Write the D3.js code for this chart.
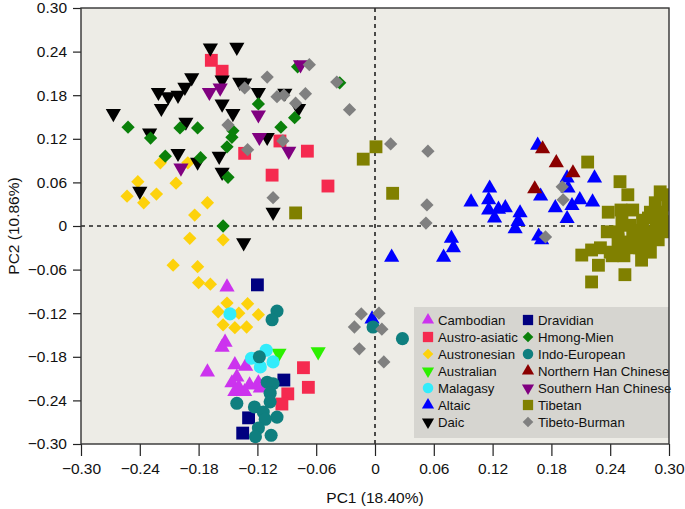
<!DOCTYPE html>
<html><head><meta charset="utf-8">
<script src="https://cdn.jsdelivr.net/npm/d3@7"></script>
<style>body{margin:0;background:#fff}svg text{font-family:"Liberation Sans",Arial,Helvetica,sans-serif;fill:#111}</style>
</head><body><svg id="c" width="685" height="509"></svg>
<script>
// ---- data ----
const xTickValues = [-0.30,-0.24,-0.18,-0.12,-0.06,0,0.06,0.12,0.18,0.24,0.30];
const yTickValues = [-0.30,-0.24,-0.18,-0.12,-0.06,0,0.06,0.12,0.18,0.24,0.30];
const tickLabels = ["\u22120.30","\u22120.24","\u22120.18","\u22120.12","\u22120.06","0","0.06","0.12","0.18","0.24","0.30"];
const xTitle = "PC1 (18.40%)";
const yTitle = "PC2 (10.86%)";
const groupNames = ["Cambodian","Austro-asiatic","Austronesian","Australian","Malagasy","Altaic","Daic",
  "Dravidian","Hmong-Mien","Indo-European","Northern Han Chinese","Southern Han Chinese","Tibetan","Tibeto-Burman"];

const cambodian = [[-0.151,-0.084],[-0.153,-0.160],[-0.156,-0.167],[-0.171,-0.201],[-0.143,-0.191],[-0.132,-0.193],
  [-0.141,-0.208],[-0.146,-0.216],[-0.139,-0.222],[-0.133,-0.228],[-0.128,-0.219],[-0.119,-0.216],[-0.117,-0.223],[-0.143,-0.228]];
const austroAsiatic = [[-0.167,0.228],[-0.156,0.213],[-0.133,0.100],[-0.097,0.117],[-0.069,0.103],[-0.105,0.070],[-0.048,0.055],
  [-0.073,-0.195],[-0.068,-0.222],[-0.089,-0.231],[-0.095,-0.245]];
const austronesian = [[-0.219,0.087],[-0.191,0.087],[-0.242,0.061],[-0.253,0.041],[-0.236,0.032],[-0.223,0.044],[-0.203,0.059],
  [-0.171,0.032],[-0.184,0.015],[-0.189,-0.017],[-0.155,-0.019],[-0.206,-0.054],[-0.181,-0.056],[-0.180,-0.078],[-0.168,-0.080],
  [-0.151,-0.106],[-0.130,-0.107],[-0.160,-0.118],[-0.139,-0.120],[-0.119,-0.122],[-0.155,-0.136],[-0.143,-0.140],[-0.131,-0.139]];
const australian = [[-0.098,-0.175],[-0.058,-0.173]];
const malagasy = [[-0.148,-0.121],[-0.111,-0.171],[-0.126,-0.182],[-0.117,-0.194],[-0.104,-0.187]];
const altaic = [[0.166,0.111],[0.117,0.052],[0.098,0.033],[0.116,0.036],[0.116,0.022],[0.126,0.023],[0.133,0.025],[0.122,0.011],
  [0.148,0.018],[0.146,0.006],[0.143,-0.004],[0.169,0.041],[0.196,0.066],[0.197,0.052],[0.184,0.025],[0.201,0.028],[0.209,0.036],
  [0.222,0.033],[0.224,0.066],[0.196,0.010],[0.167,-0.014],[0.170,-0.019],[0.078,-0.017],[0.080,-0.030],[0.070,-0.043],
  [0.017,-0.043],[-0.003,-0.128]];
const daic = [[-0.168,0.245],[-0.141,0.246],[-0.267,0.155],[-0.221,0.184],[-0.211,0.178],[-0.201,0.180],[-0.194,0.191],
  [-0.187,0.204],[-0.218,0.162],[-0.156,0.201],[-0.138,0.198],[-0.133,0.197],[-0.119,0.184],[-0.092,0.183],[-0.156,0.168],
  [-0.145,0.155],[-0.193,0.143],[-0.230,0.128],[-0.201,0.100],[-0.181,0.088],[-0.159,0.096],[-0.156,0.074],[-0.110,0.122],
  [-0.078,0.162],[-0.240,0.048],[-0.104,0.019],[-0.134,-0.023]];
const dravidian = [[-0.120,-0.081],[-0.093,-0.212],[-0.129,-0.264],[-0.135,-0.285]];
const hmongMien = [[-0.252,0.136],[-0.229,0.121],[-0.214,0.096],[-0.199,0.135],[-0.181,0.135],[-0.178,0.094],[-0.151,0.109],
  [-0.146,0.122],[-0.145,0.131],[-0.150,0.067],[-0.119,0.168],[-0.096,0.136],[-0.082,0.149],[-0.155,0.000],[-0.079,0.219],[-0.036,0.197]];
const indoEuropean = [[-0.100,-0.117],[-0.105,-0.129],[-0.118,-0.180],[-0.110,-0.215],[-0.104,-0.217],[-0.107,-0.230],
  [-0.107,-0.242],[-0.141,-0.244],[-0.123,-0.249],[-0.114,-0.256],[-0.100,-0.263],[-0.112,-0.266],[-0.119,-0.278],
  [-0.122,-0.290],[-0.106,-0.288],[-0.002,-0.139],[0.028,-0.155]];
const northernHan = [[0.171,0.106],[0.185,0.087],[0.202,0.073],[0.163,0.051]];
const southernHan = [[-0.169,0.184],[-0.158,0.190],[-0.076,0.222],[-0.119,0.153],[-0.118,0.122],[-0.088,0.103],[-0.198,0.080]];
const tibetan = [[-0.081,0.018],[-0.012,0.092],[0.001,0.109],[0.018,0.045],[0.217,0.088],
  [0.250,0.061],[0.258,0.043],[0.238,0.019],[0.251,0.022],[0.263,0.022],[0.291,0.047],[0.297,0.043],[0.286,0.032],
  [0.281,0.019],[0.293,0.019],[0.299,0.029],[0.252,0.006],[0.260,0.001],[0.237,-0.008],[0.248,-0.008],[0.263,-0.006],
  [0.273,0.008],[0.279,0.011],[0.287,0.003],[0.295,0.001],[0.274,-0.008],[0.286,-0.010],[0.297,-0.008],[0.248,-0.019],
  [0.258,-0.022],[0.268,-0.017],[0.279,-0.023],[0.289,-0.019],[0.281,-0.036],[0.270,-0.030],[0.260,-0.030],[0.250,-0.033],
  [0.240,-0.036],[0.230,-0.030],[0.221,-0.033],[0.211,-0.040],[0.272,-0.047],[0.228,-0.054],[0.221,-0.077],[0.255,-0.067],
  [0.242,-0.041],[0.254,-0.041],[0.291,0.015],[0.299,0.006]];
const tibetoBurman = [[-0.150,0.139],[-0.133,0.190],[-0.110,0.205],[-0.067,0.222],[-0.039,0.198],[-0.100,0.178],[-0.093,0.180],
  [-0.071,0.182],[-0.081,0.169],[-0.026,0.160],[-0.130,0.105],[-0.094,0.117],[-0.104,0.039],[0.016,0.113],[0.054,0.103],
  [0.053,0.029],[0.052,0.004],[0.191,0.054],[0.192,0.036],[0.174,-0.015],[-0.014,-0.121],[-0.021,-0.139],[-0.016,-0.169],
  [0.004,-0.120],[0.007,-0.142],[0.009,-0.187]];

const seriesData = [cambodian,austroAsiatic,austronesian,australian,malagasy,altaic,daic,
  dravidian,hmongMien,indoEuropean,northernHan,southernHan,tibetan,tibetoBurman];

// ---- styles ----
const styles = [
  {shape:"up", color:"#cc33ee"},
  {shape:"square", color:"#f52a4f"},
  {shape:"diamond", color:"#fdd20c"},
  {shape:"down", color:"#2cf000"},
  {shape:"circle", color:"#33ecfb"},
  {shape:"up", color:"#0000ff"},
  {shape:"down", color:"#000000"},
  {shape:"square", color:"#000080"},
  {shape:"diamond", color:"#0a800a"},
  {shape:"circle", color:"#0f7f7f"},
  {shape:"up", color:"#8b0000"},
  {shape:"down", color:"#800080"},
  {shape:"square", color:"#808000"},
  {shape:"diamond", color:"#808080"}
];

const L = 81, R = 669, T = 8, B = 444;
const svg = d3.select("#c");
const x = d3.scaleLinear().domain([-0.3,0.3]).range([L,R]);
const y = d3.scaleLinear().domain([-0.3,0.3]).range([B,T]);

function symPath(shape, k){
  if(shape==="circle") return d3.symbol(d3.symbolCircle, 135*k*k)();
  if(shape==="square") return d3.symbol(d3.symbolSquare, 165*k*k)();
  if(shape==="diamond") return d3.symbol(d3.symbolSquare, 88*k*k)();
  return d3.symbol(d3.symbolTriangle, 100*k*k)();
}
function rot(shape){ return shape==="down" ? 180 : shape==="diamond" ? 45 : 0; }

// background
svg.append("rect").attr("x",L).attr("y",T).attr("width",R-L).attr("height",B-T).attr("fill","#edece6");
svg.append("defs").append("clipPath").attr("id","clip")
  .append("rect").attr("x",L).attr("y",T).attr("width",R-L).attr("height",B-T);

// zero lines
svg.append("line").attr("x1",x(0)).attr("x2",x(0)).attr("y1",T).attr("y2",B)
  .attr("stroke","#222").attr("stroke-width",1.6).attr("stroke-dasharray","4,4");
svg.append("line").attr("x1",L).attr("x2",R).attr("y1",y(0)).attr("y2",y(0))
  .attr("stroke","#222").attr("stroke-width",1.6).attr("stroke-dasharray","4,4");

// points
const pts = svg.append("g").attr("clip-path","url(#clip)");
seriesData.forEach((data,i)=>{
  const st = styles[i];
  pts.append("g").selectAll("path").data(data).join("path")
    .attr("d", symPath(st.shape,1))
    .attr("transform", d=>`translate(${x(d[0])},${y(d[1])}) rotate(${rot(st.shape)})`)
    .attr("fill", st.color);
});

// legend
const lg = svg.append("g");
lg.append("rect").attr("x",414).attr("y",307).attr("width",R-414).attr("height",131).attr("fill","#d6d5d0");
groupNames.forEach((name,i)=>{
  const col = i<7 ? 0 : 1, row = i%7;
  const mx = col===0 ? 428 : 528, my = 320 + row*17;
  const st = styles[i];
  lg.append("path").attr("d", symPath(st.shape,0.8))
    .attr("transform",`translate(${mx},${my}) rotate(${rot(st.shape)})`).attr("fill",st.color);
  lg.append("text").attr("x",mx+10).attr("y",my+5).style("font-size","13.2px").text(name);
});

// axes
const fmt = d => tickLabels[xTickValues.findIndex(v=>Math.abs(v-d)<1e-9)];
const xa = svg.append("g").attr("transform",`translate(0,${B})`)
  .call(d3.axisBottom(x).tickValues(xTickValues).tickFormat(fmt).tickSize(12).tickPadding(7).tickSizeOuter(0));
const ya = svg.append("g").attr("transform",`translate(${L},0)`)
  .call(d3.axisLeft(y).tickValues(yTickValues).tickFormat(fmt).tickSize(8).tickPadding(6).tickSizeOuter(0));
[xa,ya].forEach(a=>{
  a.select(".domain").remove();
  a.selectAll("line").attr("stroke","#222").attr("stroke-width",1.2);
  a.selectAll("text").style("font-size","15.5px").attr("fill","#111")
    .style("font-family",'"Liberation Sans",Arial,sans-serif');
});

// frame
svg.append("rect").attr("x",L).attr("y",T).attr("width",R-L).attr("height",B-T)
  .attr("fill","none").attr("stroke","#333").attr("stroke-width",1.4);

// titles
svg.append("text").attr("x",375).attr("y",503).attr("text-anchor","middle").style("font-size","15.5px").text(xTitle);
svg.append("text").attr("transform",`translate(19,${(T+B)/2}) rotate(-90)`).attr("text-anchor","middle")
  .style("font-size","15.5px").text(yTitle);
</script></body></html>
